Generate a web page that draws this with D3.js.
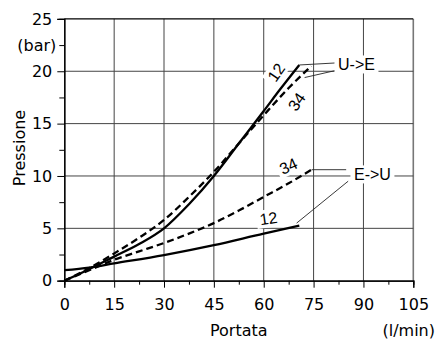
<!DOCTYPE html>
<html>
<head>
<meta charset="utf-8">
<script src="https://cdn.jsdelivr.net/npm/d3@7"></script>
<style>
  body { margin: 0; background: #fff; }
  svg { display: block; }
  .tick text { font-family: "DejaVu Sans", sans-serif; font-size: 16px; fill: #000; }
</style>
</head>
<body>
<svg class="chart"></svg>
<script>
// Portata (l/min) vs Pressione (bar)
var ueSolidX = [0, 7.5, 15, 22.5, 30, 37.5, 45, 52.5, 60, 65, 70.7];
var ueSolidY = [0, 1.1, 2.3, 3.5, 5.0, 7.3, 10.0, 13.1, 16.2, 18.3, 20.6];
var ueDashX = [0, 7.5, 15, 22.5, 30, 37.5, 45, 52.5, 60, 67.5, 74.3];
var ueDashY = [0, 1.2, 2.6, 4.1, 5.8, 8.0, 10.4, 13.1, 15.8, 18.4, 20.5];
var euSolidX = [0, 7.5, 15, 30, 45, 60, 70.7];
var euSolidY = [1.0, 1.25, 1.65, 2.45, 3.4, 4.5, 5.25];
var euDashX = [0, 7.5, 15, 22.5, 30, 37.5, 45, 52.5, 60, 67.5, 74.4];
var euDashY = [0, 1.0, 2.0, 2.8, 3.6, 4.5, 5.5, 6.7, 8.0, 9.3, 10.6];

var xTicks = [0, 15, 30, 45, 60, 75, 90, 105];
var yTicks = [0, 5, 10, 15, 20, 25];

var width = 439, height = 342;

var svg = d3.select(".chart")
    .attr("width", width)
    .attr("height", height);

var x = d3.scaleLinear().domain([0, 105]).range([64.3, 413.3]);
var y = d3.scaleLinear().domain([0, 25]).range([280.7, 18.9]);

function pts(xs, ys) {
    return xs.map(function (v, i) { return [v, ys[i]]; });
}

// grid
svg.append("g")
    .selectAll("line.gx")
    .data(xTicks.slice(1))
    .enter().append("line")
    .attr("x1", function (d) { return x(d); })
    .attr("x2", function (d) { return x(d); })
    .attr("y1", y(0)).attr("y2", y(25))
    .attr("stroke", function (d) { return d == 105 ? "#777" : "#444"; })
    .attr("stroke-width", function (d) { return d == 105 ? 1.6 : 1; });

svg.append("g")
    .selectAll("line.gy")
    .data(yTicks.slice(1))
    .enter().append("line")
    .attr("x1", x(0)).attr("x2", x(105))
    .attr("y1", function (d) { return y(d); })
    .attr("y2", function (d) { return y(d); })
    .attr("stroke", function (d) { return d == 25 ? "#000" : "#444"; })
    .attr("stroke-width", function (d) { return d == 25 ? 1.3 : 1; });

// axes
var xAxis = svg.append("g")
    .attr("transform", "translate(0," + y(0) + ")")
    .call(d3.axisBottom(x).tickValues(xTicks).tickSize(7).tickPadding(11).tickFormat(d3.format("d")));
var xMinor = svg.append("g")
    .attr("transform", "translate(0," + y(0) + ")")
    .call(d3.axisBottom(x).tickValues(d3.range(7.5, 105, 15)).tickSize(4).tickFormat(""));
var yAxis = svg.append("g")
    .attr("transform", "translate(" + x(0) + ",0)")
    .call(d3.axisLeft(y).tickValues(yTicks).tickSize(7).tickPadding(5).tickFormat(d3.format("d")));
var yMinor = svg.append("g")
    .attr("transform", "translate(" + x(0) + ",0)")
    .call(d3.axisLeft(y).tickValues([2.5, 7.5, 12.5, 17.5, 22.5]).tickSize(5)
        .tickFormat(function (d) { return d == 22.5 ? "(bar)" : ""; }));

[xAxis, xMinor, yAxis, yMinor].forEach(function (g) {
    g.select(".domain").attr("stroke", "#000").attr("stroke-width", 1.2);
    g.selectAll(".tick line").attr("stroke", "#000");
});

// axis titles
svg.append("text")
    .attr("x", x(52.5)).attr("y", 336)
    .attr("text-anchor", "middle")
    .style("font-family", "DejaVu Sans").style("font-size", "16px")
    .text("Portata");
svg.append("text")
    .attr("x", 435).attr("y", 336)
    .attr("text-anchor", "end")
    .style("font-family", "DejaVu Sans").style("font-size", "16px")
    .text("(l/min)");
svg.append("text")
    .attr("transform", "translate(25," + 148 + ") rotate(-90)")
    .attr("text-anchor", "middle")
    .style("font-family", "DejaVu Sans").style("font-size", "16px")
    .text("Pressione");

// curves
var line = d3.line()
    .x(function (d) { return x(d[0]); })
    .y(function (d) { return y(d[1]); })
    .curve(d3.curveMonotoneX);

var curves = [
    { data: pts(ueSolidX, ueSolidY), dash: null },
    { data: pts(ueDashX, ueDashY), dash: "7,4" },
    { data: pts(euSolidX, euSolidY), dash: null },
    { data: pts(euDashX, euDashY), dash: "7,4" }
];

svg.append("g")
    .selectAll("path")
    .data(curves)
    .enter().append("path")
    .attr("d", function (d) { return line(d.data); })
    .attr("fill", "none")
    .attr("stroke", "#000")
    .attr("stroke-width", 2.3)
    .attr("stroke-dasharray", function (d) { return d.dash; });

// leader lines, in data units
var leaders = [
    [[70.7, 20.6], [82.0, 20.8]],
    [[72.3, 19.4], [82.0, 20.1]],
    [[74.4, 10.6], [84.8, 10.6]],
    [[69.9, 5.5], [85.4, 9.5]]
];
svg.append("g")
    .selectAll("line")
    .data(leaders)
    .enter().append("line")
    .attr("x1", function (d) { return x(d[0][0]); })
    .attr("y1", function (d) { return y(d[0][1]); })
    .attr("x2", function (d) { return x(d[1][0]); })
    .attr("y2", function (d) { return y(d[1][1]); })
    .attr("stroke", "#222")
    .attr("stroke-width", 0.9);

// curve labels
var labels = [
    { t: "12", x: 63.7, y: 19.9, r: -55 },
    { t: "34", x: 69.9, y: 17.1, r: -55 },
    { t: "34", x: 67.4, y: 10.95, r: -25 },
    { t: "12", x: 61.4, y: 5.95, r: -8 },
    { t: "U->E", x: 87.9, y: 20.65, r: 0 },
    { t: "E->U", x: 92.7, y: 10.15, r: 0 }
];
var lab = svg.append("g")
    .selectAll("g")
    .data(labels)
    .enter().append("g")
    .attr("transform", function (d) {
        return "translate(" + x(d.x) + "," + y(d.y) + ") rotate(" + d.r + ")";
    });
lab.append("rect")
    .attr("x", function (d) { return -d.t.length * 5 - 2; })
    .attr("y", -9)
    .attr("width", function (d) { return d.t.length * 10 + 4; })
    .attr("height", 18)
    .attr("fill", "#fff");
lab.append("text")
    .attr("text-anchor", "middle")
    .attr("dy", "0.36em")
    .style("font-family", "Liberation Sans, Arial, sans-serif")
    .style("font-size", "16px")
    .text(function (d) { return d.t; });
</script>
</body>
</html>
